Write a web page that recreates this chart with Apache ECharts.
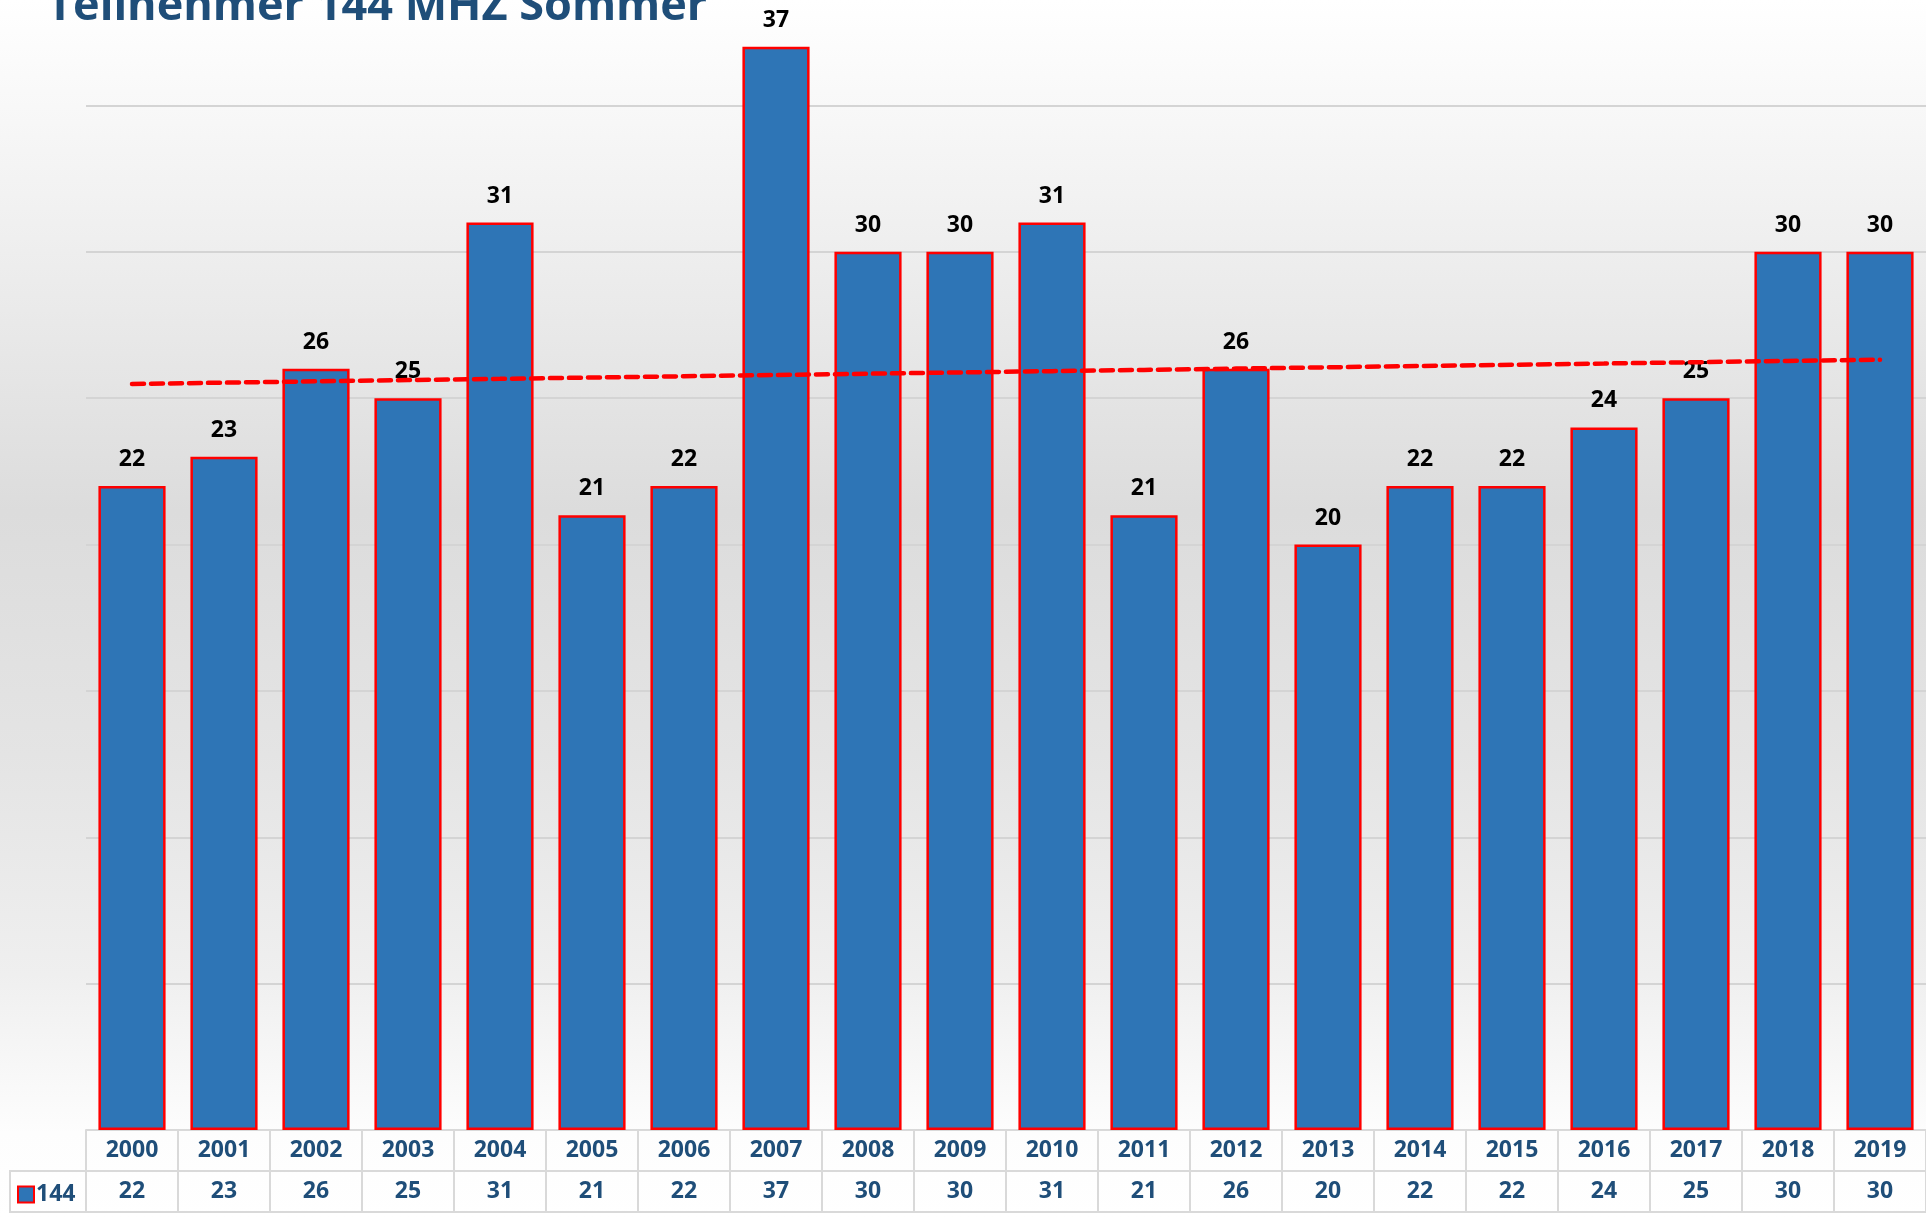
<!DOCTYPE html>
<html>
<head>
<meta charset="utf-8">
<script src="https://cdn.jsdelivr.net/npm/echarts@6/dist/echarts.min.js"></script>
<style>
  html, body { margin: 0; padding: 0; }
  #chart { width: 1926px; height: 1218px; }
</style>
</head>
<body>
<div id="chart"></div>
<script>
// Teilnehmer pro Jahr, 144 MHz Sommer
const years = ['2000', '2001', '2002', '2003', '2004', '2005', '2006', '2007', '2008', '2009',
  '2010', '2011', '2012', '2013', '2014', '2015', '2016', '2017', '2018', '2019']
const teilnehmer = [22, 23, 26, 25, 31, 21, 22, 37, 30, 30, 31, 21, 26, 20, 22, 22, 24, 25, 30, 30]
const seriesName = '144'
const titleText = 'Teilnehmer 144 MHZ Sommer'

// linearer Trend (wie Excel-Trendlinie)
function linearTrend(values) {
  const n = values.length
  let sx = 0, sy = 0, sxy = 0, sxx = 0
  values.forEach((v, i) => { sx += i; sy += v; sxy += i * v; sxx += i * i })
  const slope = (n * sxy - sx * sy) / (n * sxx - sx * sx)
  const icpt = (sy - slope * sx) / n
  return values.map((v, i) => +(icpt + slope * i).toFixed(3))
}
const trend = linearTrend(teilnehmer)

const blue = '#2E75B6'
const dark = '#1F4E79'
const cellLine = '#d9d9d9'
const font = 'Open Sans'

const chart = echarts.init(document.getElementById('chart'))
const option = {
  animation: false,
  backgroundColor: {
    type: 'linear', x: 0, y: 0, x2: 0, y2: 1,
    colorStops: [
      { offset: 0, color: '#ffffff' },
      { offset: 0.1, color: '#f7f7f7' },
      { offset: 0.42, color: '#dcdcdc' },
      { offset: 0.62, color: '#e4e4e4' },
      { offset: 0.8, color: '#efefef' },
      { offset: 0.93, color: '#fdfdfd' },
      { offset: 1, color: '#ffffff' }
    ]
  },
  title: {
    text: titleText,
    left: 42,
    top: -20,
    textStyle: {
      fontFamily: font,
      fontWeight: 'bold',
      fontSize: 45,
      color: dark
    }
  },
  legend: {
    left: 12,
    top: 1178,
    icon: 'rect',
    itemWidth: 16,
    itemHeight: 16,
    itemGap: 4,
    data: [seriesName],
    textStyle: {
      fontFamily: font,
      fontWeight: 'bold',
      fontSize: 23,
      color: dark,
      padding: [0, 0, 0, -3]
    }
  },
  grid: {
    left: 86,
    right: 0,
    top: 0,
    bottom: 88,
    containLabel: false
  },
  xAxis: [{
    type: 'category',
    data: years,
    position: 'bottom',
    axisLine: { lineStyle: { color: cellLine, width: 2 } },
    axisTick: { show: true, length: 82, lineStyle: { color: cellLine, width: 2 } },
    axisLabel: {
      interval: 0,
      margin: 20,
      verticalAlign: 'middle',
      fontFamily: font,
      fontWeight: 'bold',
      fontSize: 23,
      color: dark
    }
  }, {
    type: 'category',
    data: teilnehmer.map(String),
    position: 'bottom',
    offset: 41,
    axisLine: { lineStyle: { color: cellLine, width: 2 } },
    axisTick: { show: false },
    axisLabel: {
      interval: 0,
      margin: 20,
      verticalAlign: 'middle',
      fontFamily: font,
      fontWeight: 'bold',
      fontSize: 23,
      color: dark
    }
  }, {
    type: 'category',
    data: years,
    position: 'bottom',
    offset: 82,
    axisLine: { lineStyle: { color: cellLine, width: 2 } },
    axisTick: { show: false },
    axisLabel: { show: false }
  }],
  yAxis: {
    type: 'value',
    min: 0,
    max: 38.6,
    interval: 5,
    axisLine: { show: false },
    axisTick: { show: false },
    axisLabel: { show: false },
    splitLine: { showMaxLine: false, lineStyle: { color: '#d4d4d4', width: 2 } }
  },
  graphic: [{
    type: 'polyline',
    silent: true,
    shape: { points: [[86, 1171], [10, 1171], [10, 1212], [86, 1212]] },
    style: { stroke: cellLine, lineWidth: 2, fill: null }
  }],
  series: [{
    name: seriesName,
    type: 'bar',
    data: teilnehmer,
    barCategoryGap: '27%',
    itemStyle: {
      color: blue,
      borderColor: '#ff0000',
      borderWidth: 2.5
    },
    label: {
      show: true,
      position: 'top',
      distance: 15,
      fontFamily: font,
      fontWeight: 'bold',
      fontSize: 23,
      color: '#000000'
    },
    z: 2
  }, {
    name: 'Trend',
    type: 'line',
    data: trend,
    symbol: 'none',
    silent: true,
    lineStyle: {
      color: '#ff0000',
      width: 4.5,
      type: [12, 7],
      cap: 'round'
    },
    z: 3
  }]
}
chart.setOption(option)
</script>
</body>
</html>
